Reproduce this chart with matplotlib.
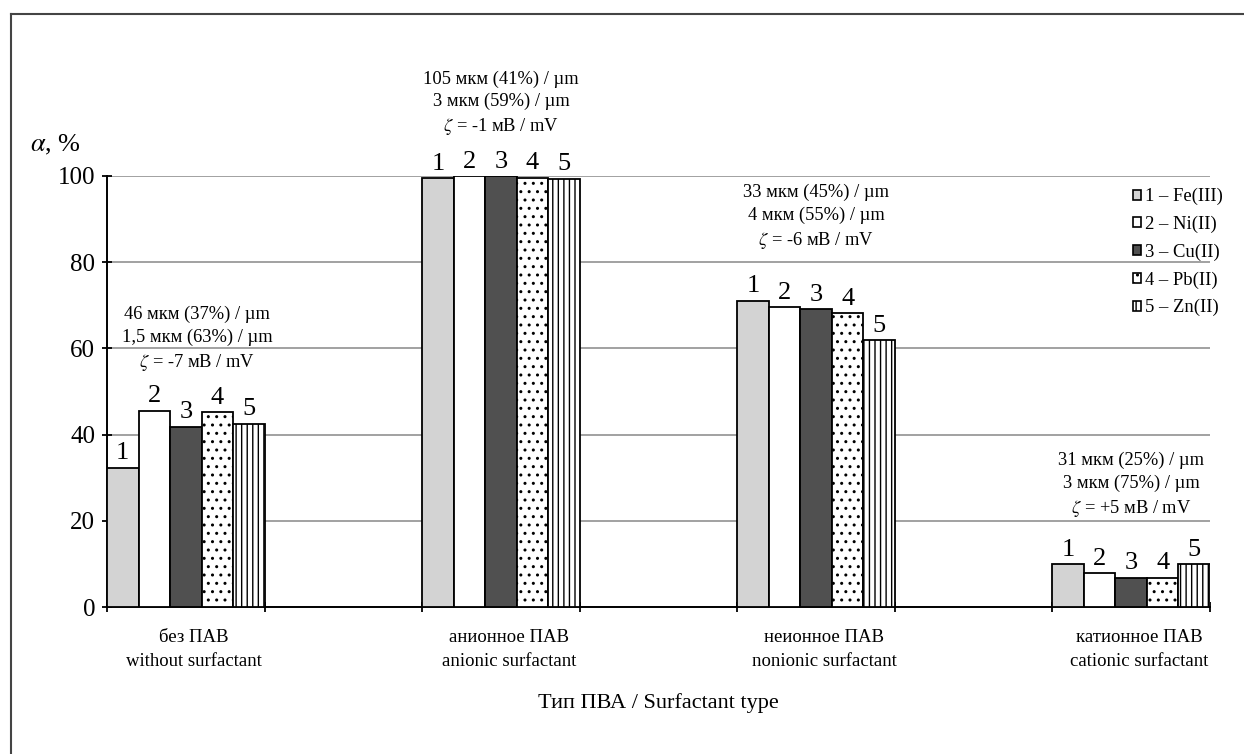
import matplotlib
matplotlib.use("Agg")
import matplotlib.pyplot as plt
import numpy as np
from matplotlib.lines import Line2D
from matplotlib.patches import Patch

# === Data ===
groups = ["без ПАВ\nwithout surfactant", "анионное ПАВ\nanionic surfactant",
          "неионное ПАВ\nnonionic surfactant", "катионное ПАВ\ncationic surfactant"]
metals = ["1 – Fe(III)", "2 – Ni(II)", "3 – Cu(II)", "4 – Pb(II)", "5 – Zn(II)"]
fe = [32.3, 99.5, 71.1, 9.9]
ni = [45.5, 100.0, 69.5, 7.8]
cu = [41.8, 100.0, 69.1, 6.8]
pb = [45.2, 99.6, 68.1, 6.8]
zn = [42.5, 99.4, 61.9, 9.9]
notes = [
    "46 мкм (37%) / µm\n1,5 мкм (63%) / µm\n$\\zeta$ = -7 мВ / mV",
    "105 мкм (41%) / µm\n3 мкм (59%) / µm\n$\\zeta$ = -1 мВ / mV",
    "33 мкм (45%) / µm\n4 мкм (55%) / µm\n$\\zeta$ = -6 мВ / mV",
    "31 мкм (25%) / µm\n3 мкм (75%) / µm\n$\\zeta$ = +5 мВ / mV",
]

# === Style ===
plt.rcParams['font.family'] = ['Liberation Serif', 'DejaVu Serif']
plt.rcParams['mathtext.fontset'] = 'stix'
plt.rcParams['hatch.linewidth'] = 1.0

colors = ["#d3d3d3", "white", "#505050", "white", "white"]
hatches = [None, None, None, "..", "|||"]
series = [fe, ni, cu, pb, zn]

fig = plt.figure(figsize=(12.44, 7.54), dpi=100)
ax = fig.add_axes([107 / 1244, 1 - 607 / 754, 1103 / 1244, 431 / 754])

# frame around the picture (left and top edges visible)
fig.add_artist(Line2D([11 / 1244, 11 / 1244], [0, 1 - 14 / 754], transform=fig.transFigure,
                      color="#444444", lw=1.5))
fig.add_artist(Line2D([11 / 1244, 1], [1 - 14 / 754, 1 - 14 / 754], transform=fig.transFigure,
                      color="#444444", lw=1.5))

centers = np.arange(len(groups)) * 2 + 0.5
w = 0.2
for i, vals in enumerate(series):
    xs = centers - 0.5 + w * (i + 0.5)
    ax.bar(xs, vals, width=w, color=colors[i], edgecolor="black", linewidth=1.3,
           hatch=hatches[i], zorder=3)
    for x, v in zip(xs, vals):
        ax.text(x, v + 0.8, str(i + 1), ha="center", va="bottom", fontsize=19, zorder=4)

# annotations above groups
note_y = [54.3, 109.0, 82.6, 20.4]
note_dx = [0.07, 0, 0, 0]
for c, t, y, dx in zip(centers, notes, note_y, note_dx):
    ax.text(c + dx, y, t, ha="center", va="bottom", fontsize=13.3, linespacing=1.4,
            clip_on=False)

ax.set_xlim(0, 7)
ax.set_ylim(0, 100)
ax.set_yticks([0, 20, 40, 60, 80, 100])
ax.set_xticks(np.arange(0, 8))
ax.set_xticklabels([])
ax.tick_params(axis="both", direction="inout", length=7, width=1.3, labelsize=18)
ax.tick_params(axis="y", pad=5)
ax.yaxis.grid(True, color="#888888", lw=1.1, zorder=0)
ax.set_axisbelow(True)
for s in ["top", "right"]:
    ax.spines[s].set_visible(False)
for s in ["left", "bottom"]:
    ax.spines[s].set_linewidth(1.4)

for c, g in zip(centers, groups):
    ax.text(c + 0.05, -5.2, g, ha="center", va="top", fontsize=13.5, linespacing=1.5)

ax.text(3.5, -20, "Тип ПВА / Surfactant type", ha="center", va="top", fontsize=16)
fig.text(30 / 1244, 1 - 145 / 754, "$\\alpha$, %", fontsize=19, va="center", ha="left")

handles = [Patch(facecolor=colors[i], edgecolor="black", hatch=hatches[i], linewidth=1.2)
           for i in range(5)]
fig.legend(handles, metals, loc="upper left", bbox_to_anchor=(1133 / 1244, 1 - 188 / 754),
           frameon=False, fontsize=13.4, handlelength=0.45, handleheight=0.45,
           handletextpad=0.2, labelspacing=0.56, borderpad=0, borderaxespad=0)

fig.savefig("out.png", dpi=100)
